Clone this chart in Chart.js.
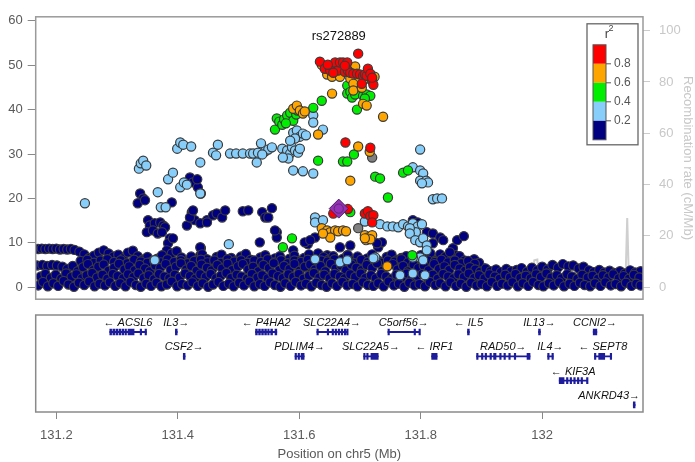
<!DOCTYPE html>
<html>
<head>
<meta charset="utf-8">
<script src="https://cdn.jsdelivr.net/npm/chart.js@4.4.0/dist/chart.umd.min.js"></script>
<style>
html, body { margin: 0; padding: 0; background: #fff; }
#wrap { position: relative; width: 695px; height: 462px; }
canvas { position: absolute; left: 0; }
#top { top: 0; }
#genes { top: 305px; }
</style>
</head>
<body>
<div id="wrap">
  <canvas id="top" width="695" height="316"></canvas>
  <canvas id="genes" width="695" height="157"></canvas>
</div>
<script>
// lead snp
const leadName = 'rs272889';
const leadSnp = [[131.665, 17.7]];

// r2 > 0.8
const ld08 = [[131.697,52.6],[131.634,50.8],[131.642,49.2],[131.651,48.8],[131.659,50.6],[131.664,48.8],[131.667,50.6],[131.672,50.6],[131.675,48.5],[131.679,50.6],[131.680,48.8],[131.684,48.3],[131.689,48.1],[131.695,48.1],[131.700,47.9],[131.705,47.6],[131.708,47.9],[131.711,47.6],[131.713,49.2],[131.717,48.1],[131.720,46.5],[131.722,45.6],[131.720,47.2],[131.703,45.8],[131.675,49.9],[131.656,48.3],[131.647,50.1],[131.676,32.6],[131.717,31.4],[131.656,16.6],[131.680,17.6],[131.708,16.6],[131.713,17.1],[131.717,16.0],[131.722,16.2],[131.720,14.6]];

// 0.6 - 0.8
const ld06 = [[131.637,50.1],[131.646,47.9],[131.654,47.4],[131.667,47.4],[131.684,47.0],[131.692,49.7],[131.700,46.5],[131.711,47.0],[131.724,47.4],[131.654,43.6],[131.590,40.2],[131.596,40.9],[131.601,39.8],[131.606,39.1],[131.609,39.6],[131.631,34.4],[131.689,45.8],[131.689,44.3],[131.703,44.9],[131.705,41.3],[131.711,40.9],[131.738,38.4],[131.697,31.7],[131.716,30.5],[131.684,24.0],[131.637,13.3],[131.646,12.8],[131.651,12.4],[131.659,12.8],[131.664,12.6],[131.672,12.8],[131.677,12.6],[131.651,11.2],[131.639,12.1],[131.708,11.7],[131.713,11.2],[131.720,11.7],[131.710,10.6],[131.717,10.8],[131.708,11.0],[131.745,4.7]];

// 0.4 - 0.6
const ld04 = [[131.560,35.5],[131.563,38.0],[131.567,37.3],[131.572,36.6],[131.575,37.8],[131.580,38.7],[131.585,39.3],[131.590,37.5],[131.595,38.9],[131.578,36.9],[131.597,39.8],[131.623,40.4],[131.637,42.0],[131.679,45.4],[131.679,43.6],[131.631,28.5],[131.672,28.3],[131.679,28.3],[131.573,9.0],[131.588,11.0],[131.684,44.0],[131.687,42.7],[131.692,43.4],[131.705,43.1],[131.711,43.4],[131.717,43.1],[131.708,42.5],[131.695,40.0],[131.690,29.9],[131.725,24.9],[131.733,24.5],[131.746,20.2],[131.771,25.8],[131.779,26.3],[131.786,7.2],[131.684,16.9]];

// 0.2 - 0.4
const ld02 = [[131.247,18.9],[131.336,26.7],[131.339,27.9],[131.343,28.5],[131.348,27.4],[131.367,21.4],[131.372,18.0],[131.380,18.0],[131.384,24.3],[131.392,25.8],[131.399,31.2],[131.404,32.6],[131.409,32.1],[131.422,31.7],[131.404,22.5],[131.410,23.6],[131.415,23.1],[131.437,28.1],[131.437,21.1],[131.458,30.3],[131.463,29.7],[131.466,32.1],[131.486,30.1],[131.496,30.1],[131.507,30.1],[131.519,30.1],[131.524,30.1],[131.532,30.3],[131.537,32.4],[131.544,30.6],[131.549,31.0],[131.555,31.5],[131.539,29.9],[131.530,28.1],[131.484,9.7],[131.572,31.2],[131.577,29.7],[131.580,30.8],[131.585,30.1],[131.588,31.5],[131.593,30.8],[131.598,30.3],[131.601,31.2],[131.582,29.0],[131.573,29.2],[131.590,34.8],[131.596,35.3],[131.601,33.9],[131.606,34.6],[131.611,34.2],[131.593,33.5],[131.585,33.0],[131.590,26.3],[131.606,26.1],[131.623,25.6],[131.623,38.7],[131.623,37.1],[131.639,35.5],[131.626,15.7],[131.626,14.6],[131.639,15.1],[131.626,6.3],[131.667,5.6],[131.679,6.1],[131.708,14.8],[131.733,14.2],[131.745,13.7],[131.754,13.7],[131.763,13.5],[131.771,14.2],[131.779,13.7],[131.787,14.4],[131.795,13.7],[131.802,14.2],[131.792,12.4],[131.782,13.3],[131.787,27.0],[131.799,26.3],[131.804,25.6],[131.799,24.0],[131.809,24.0],[131.812,23.6],[131.802,23.4],[131.799,31.0],[131.820,19.8],[131.827,20.0],[131.835,20.0],[131.782,12.1],[131.791,10.6],[131.799,10.1],[131.804,11.0],[131.810,9.4],[131.810,8.3],[131.799,6.7],[131.787,6.7],[131.804,6.1],[131.725,6.7],[131.766,2.7],[131.807,2.7],[131.722,6.5],[131.787,3.1],[131.362,6.1]];

// < 0.2
const ld00 = [
  [131.338,21.1],[131.343,20.0],[131.334,18.9],[131.346,19.6],[131.351,15.1],[131.354,13.9],[131.362,14.4],[131.371,14.6],[131.376,13.9],[131.379,13.5],[131.349,12.4],[131.359,12.8],[131.367,12.1],[131.374,12.4],[131.387,11.0],[131.384,9.9],[131.392,11.0],[131.382,8.3],[131.390,19.1],[131.420,24.7],[131.425,23.6],[131.433,22.5],[131.438,21.1],[131.432,24.3],[131.423,16.9],[131.428,15.1],[131.415,13.9],[131.448,15.1],[131.438,8.8],
  [131.420,15.7],[131.425,17.3],[131.437,14.4],[131.448,14.6],[131.458,16.2],[131.464,16.6],[131.473,15.7],[131.478,17.3],[131.507,17.1],[131.516,17.3],[131.539,16.9],[131.544,15.7],[131.549,15.7],[131.555,17.8],[131.563,12.4],[131.563,11.2],[131.535,10.1],[131.437,9.0],[131.437,7.2],[131.614,9.7],[131.609,10.1],[131.626,11.2],[131.667,9.0],[131.684,9.4],[131.646,7.2],[131.618,4.5],[131.679,7.2],[131.700,4.5],[131.730,9.0],[131.736,10.1],[131.728,9.9],[131.618,10.6],[131.560,12.8],[131.590,8.3],[131.631,7.6],
  [131.787,15.1],[131.795,14.6],[131.791,13.9],[131.810,12.4],[131.820,12.1],[131.832,11.2],[131.837,10.6],[131.820,9.9],[131.853,8.8],[131.860,10.6],[131.871,11.5],[131.848,6.5],[131.857,7.2],[131.862,6.1],[131.865,4.9],[131.870,5.6],[131.876,4.9],[131.881,4.9],[131.903,4.3],[131.919,3.4],[131.590,4.9],
  [131.170,8.6],[131.176,8.7],[131.182,8.6],[131.188,8.7],[131.194,8.6],[131.200,8.7],[131.206,8.5],[131.212,8.6],[131.218,8.5],[131.224,8.6],[131.230,8.4],[131.238,8.0],[131.246,7.4],[131.254,6.6],[131.262,7.1],[131.270,7.8],[131.278,8.3],[131.286,7.6],[131.294,6.9],[131.302,7.3],[131.310,6.5],[131.318,7.8],[131.326,8.2],[131.334,7.0],[131.342,6.2],[131.350,6.8],[131.358,5.9],[131.366,6.4],[131.374,7.2],[131.382,6.0],[131.390,7.6],[131.398,8.1],[131.406,6.7],[131.414,5.8],[131.422,6.9],[131.430,6.1],[131.440,7.4],[131.448,6.3],[131.456,5.7],[131.464,6.8],[131.472,7.3],[131.480,6.0],[131.488,6.6],[131.496,5.6],[131.504,6.9],[131.512,7.5],[131.520,6.2],[131.528,5.8],[131.536,6.7],[131.544,7.2],[131.552,6.0],[131.560,6.5],[131.568,7.0],[131.576,5.7],[131.584,6.4],[131.592,7.1],[131.600,5.9],[131.608,6.6],[131.616,7.4],[131.624,6.1],[131.632,5.8],[131.640,6.8],[131.648,6.2],[131.656,7.0],[131.664,5.9],[131.672,6.4],[131.680,7.2],[131.688,6.0],[131.696,6.9],[131.704,5.8],[131.712,6.5],[131.720,7.4],[131.728,6.2],[131.736,5.7],[131.744,6.8],[131.752,7.3],[131.760,6.1],[131.768,6.6],[131.776,7.0],[131.784,5.9],[131.792,6.5],[131.800,7.2],[131.808,6.3],[131.816,7.6],[131.824,6.0],[131.832,7.4],[131.840,6.8],[131.848,7.9],[131.856,6.2],[131.864,7.0],[131.872,6.0],[131.880,5.6],[131.888,6.3],[131.896,5.5],
  [131.240,5.9],[131.251,6.2],[131.262,5.5],[131.273,6.0],[131.284,6.3],[131.295,5.7],[131.306,6.1],[131.317,5.4],[131.328,6.2],[131.339,5.8],[131.350,5.5],[131.361,6.0],[131.372,5.6],[131.383,6.3],[131.394,5.7],[131.405,6.1],[131.416,5.4],[131.427,5.9],[131.438,6.2],[131.449,5.6],[131.460,6.0],[131.471,5.5],[131.482,6.3],[131.493,5.8],[131.504,6.1],[131.515,5.5],[131.526,6.0],[131.537,5.7],[131.548,6.3],[131.559,5.6],[131.570,6.1],[131.581,5.4],[131.592,6.0],[131.603,5.7],[131.614,6.2],[131.625,5.5],[131.636,6.0],[131.647,5.8],[131.658,6.3],[131.669,5.6],[131.680,6.0],[131.691,5.4],[131.702,6.2],[131.713,5.7],[131.724,6.1],[131.735,5.5],[131.746,6.0],[131.757,5.8],[131.768,6.3],[131.779,5.6],[131.790,6.1],[131.801,5.5],[131.812,6.0],[131.823,5.7],[131.834,6.2],[131.845,5.6],[131.856,6.0],[131.867,5.4],[131.878,5.9],[131.889,5.3],
  [131.168,4.9],[131.177,5.0],[131.185,4.8],[131.193,5.0],[131.201,4.9],[131.210,4.6],[131.218,4.1],[131.227,4.8],[131.235,3.6],[131.244,4.5],[131.252,5.2],[131.261,3.9],[131.269,4.6],[131.278,5.1],[131.286,3.7],[131.295,4.4],[131.303,5.3],[131.312,4.0],[131.320,4.7],[131.329,3.8],[131.337,5.0],[131.346,4.2],[131.354,3.6],[131.363,4.9],[131.371,4.3],[131.380,5.2],[131.388,3.9],[131.397,4.6],[131.405,5.4],[131.414,4.0],[131.422,4.8],[131.431,3.7],[131.439,5.1],[131.448,4.4],[131.456,3.8],[131.465,5.0],[131.473,4.2],[131.482,5.3],[131.490,3.9],[131.499,4.7],[131.507,5.2],[131.516,4.0],[131.524,4.6],[131.533,3.6],[131.541,5.0],[131.550,4.3],[131.558,5.4],[131.567,3.8],[131.575,4.8],[131.584,4.1],[131.592,5.2],[131.601,3.7],[131.609,4.6],[131.618,5.1],[131.626,4.0],[131.635,4.8],[131.643,3.6],[131.652,5.3],[131.660,4.2],[131.669,4.9],[131.677,3.8],[131.686,5.1],[131.694,4.4],[131.703,3.9],[131.711,5.0],[131.720,4.3],[131.728,5.4],[131.737,3.7],[131.745,4.7],[131.754,5.2],[131.762,4.0],[131.771,4.8],[131.779,3.6],[131.788,5.1],[131.796,4.3],[131.805,4.9],[131.813,3.8],[131.822,5.2],[131.830,4.1],[131.839,4.7],[131.847,3.9],[131.856,5.0],[131.864,4.2],[131.873,3.7],[131.881,4.5],[131.890,4.0],[131.898,3.5],[131.907,4.2],[131.915,3.6],[131.924,4.0],[131.932,3.4],[131.941,4.1],[131.949,3.6],[131.958,3.9],[131.966,4.3],[131.975,3.5],[131.983,4.4],[131.992,3.8],[132.000,4.6],[132.009,4.0],[132.017,5.0],[132.026,4.4],[132.034,5.2],[132.043,4.7],[132.051,4.9],[132.060,4.2],[132.068,4.6],[132.077,3.8],[132.085,3.4],[132.094,3.9],[132.102,3.3],[132.111,3.7],[132.119,3.2],[132.128,3.6],[132.136,3.1],[132.145,3.8],[132.153,3.3],[132.162,3.6],
  [131.174,2.4],[131.182,3.0],[131.191,2.1],[131.199,2.8],[131.208,1.9],[131.216,3.1],[131.225,2.3],[131.233,2.9],[131.242,2.0],[131.250,2.7],[131.259,3.2],[131.267,2.2],[131.276,2.8],[131.284,1.9],[131.293,3.0],[131.301,2.5],[131.310,2.0],[131.318,2.9],[131.327,2.3],[131.335,3.1],[131.344,2.1],[131.352,2.7],[131.361,1.8],[131.369,3.0],[131.378,2.4],[131.386,2.0],[131.395,2.8],[131.403,2.2],[131.412,3.1],[131.420,2.5],[131.429,1.9],[131.437,2.9],[131.446,2.3],[131.454,3.0],[131.463,2.0],[131.471,2.6],[131.480,3.2],[131.488,2.1],[131.497,2.8],[131.505,2.4],[131.514,1.9],[131.522,3.0],[131.531,2.2],[131.539,2.7],[131.548,2.0],[131.556,3.1],[131.565,2.5],[131.573,2.1],[131.582,2.9],[131.590,2.3],[131.599,3.0],[131.607,1.9],[131.616,2.6],[131.624,3.2],[131.633,2.2],[131.641,2.8],[131.650,2.0],[131.658,3.0],[131.667,2.4],[131.675,2.0],[131.684,2.9],[131.692,2.3],[131.701,3.1],[131.709,2.1],[131.718,2.7],[131.726,2.0],[131.735,3.0],[131.743,2.4],[131.752,1.9],[131.760,2.8],[131.769,2.3],[131.777,3.1],[131.786,2.1],[131.794,2.6],[131.803,3.0],[131.811,2.2],[131.820,2.8],[131.828,1.9],[131.837,3.0],[131.845,2.4],[131.854,2.0],[131.862,2.9],[131.871,2.3],[131.879,3.1],[131.888,2.1],[131.896,2.7],[131.905,2.0],[131.913,2.9],[131.922,2.4],[131.930,1.9],[131.939,2.8],[131.947,2.2],[131.956,3.0],[131.964,2.1],[131.973,2.6],[131.981,2.0],[131.990,2.9],[131.998,2.3],[132.007,3.1],[132.015,2.2],[132.024,2.7],[132.032,2.0],[132.041,2.9],[132.049,2.4],[132.058,1.9],[132.066,2.8],[132.075,2.2],[132.083,2.6],[132.092,1.9],[132.100,2.7],[132.109,2.2],[132.117,2.9],[132.126,2.0],[132.134,2.5],[132.143,1.9],[132.151,2.8],[132.160,2.2],
  [131.170,0.4],[131.178,1.2],[131.186,0.2],[131.195,0.9],[131.203,0.3],[131.212,1.4],[131.220,0.6],[131.229,0.1],[131.237,1.0],[131.246,0.5],[131.254,1.3],[131.263,0.2],[131.271,0.8],[131.280,0.4],[131.288,1.1],[131.297,0.3],[131.305,0.9],[131.314,0.2],[131.322,1.2],[131.331,0.5],[131.339,0.1],[131.348,0.8],[131.356,0.3],[131.365,1.0],[131.373,0.2],[131.382,0.6],[131.390,1.3],[131.399,0.2],[131.407,0.7],[131.416,0.4],[131.424,1.1],[131.433,0.3],[131.441,0.9],[131.450,0.1],[131.458,0.6],[131.467,1.2],[131.475,0.3],[131.484,0.8],[131.492,0.2],[131.501,1.0],[131.509,0.4],[131.518,1.3],[131.526,0.2],[131.535,0.7],[131.543,0.3],[131.552,1.1],[131.560,0.5],[131.569,0.1],[131.577,0.9],[131.586,0.3],[131.594,1.2],[131.603,0.4],[131.611,0.8],[131.620,0.2],[131.628,1.0],[131.637,0.5],[131.645,0.1],[131.654,0.9],[131.662,0.3],[131.671,1.2],[131.679,0.4],[131.688,0.7],[131.696,0.2],[131.705,1.1],[131.713,0.5],[131.722,0.3],[131.730,0.9],[131.739,0.2],[131.747,1.3],[131.756,0.4],[131.764,0.8],[131.773,0.1],[131.781,1.0],[131.790,0.4],[131.798,0.7],[131.807,0.2],[131.815,1.2],[131.824,0.5],[131.832,0.9],[131.841,0.2],[131.849,1.1],[131.858,0.3],[131.866,0.8],[131.875,0.1],[131.883,1.0],[131.892,0.4],[131.900,0.7],[131.909,0.2],[131.917,1.2],[131.926,0.3],[131.934,0.8],[131.943,0.4],[131.951,1.1],[131.960,0.2],[131.968,0.9],[131.977,0.3],[131.985,1.2],[131.994,0.5],[132.002,0.2],[132.011,0.9],[132.019,0.4],[132.028,1.1],[132.036,0.2],[132.045,0.8],[132.053,0.3],[132.062,1.0],[132.070,0.5],[132.079,0.2],[132.087,0.9],[132.096,0.3],[132.104,1.1],[132.113,0.4],[132.121,0.7],[132.130,0.2],[132.138,1.0],[132.147,0.3],[132.155,0.8],[132.162,0.4]
];

// no LD info
const ldNA = [[131.697,13.3],[131.720,29.2]];

// recombination rate (cM/Mb)
const recombPos  = [131.166,131.20,131.25,131.30,131.35,131.40,131.45,131.50,131.55,131.60,131.65,131.70,131.75,131.80,131.85,131.90,131.95,131.984,131.987,131.992,131.995,132.00,132.05,132.10,132.137,132.140,132.143,132.15,132.166];
const recombRate = [0.6,0.4,0.8,0.3,1.0,0.5,0.7,0.4,0.9,0.6,1.2,0.8,0.5,0.9,0.4,0.7,0.5,0.9,10.5,10.8,1.0,0.6,0.8,0.4,0.9,27.0,1.1,0.5,0.6];

const leftTicks = [0, 10, 20, 30, 40, 50, 60];
const rightTicks = [0, 20, 40, 60, 80, 100];
const xTicks = [131.2, 131.4, 131.6, 131.8, 132];
const xTickLabels = ['131.2', '131.4', '131.6', '131.8', '132'];

const ldColors = ['#FF0000', '#FFA500', '#00EE00', '#87CEFA', '#000080'];
const legendBreaks = ['0.8', '0.6', '0.4', '0.2'];

// genes
const geneNames  = ['ACSL6','IL3','P4HA2','SLC22A4','C5orf56','IL5','IL13','CCNI2','CSF2','PDLIM4','SLC22A5','IRF1','RAD50','IL4','SEPT8','KIF3A','ANKRD43'];
const geneStrand = ['-','+','-','+','+','-','+','+','+','+','+','-','+','+','-','-','+'];
const geneRow    = [1,1,1,1,1,1,1,1,2,2,2,2,2,2,2,3,4];
const geneStart  = [131.288,131.396,131.528,131.629,131.746,131.877,131.994,132.084,131.409,131.593,131.706,131.818,131.892,132.009,132.086,132.028,132.150];
const geneEnd    = [131.348,131.399,131.563,131.679,131.798,131.880,131.997,132.090,131.412,131.608,131.730,131.827,131.980,132.018,132.114,132.074,132.153];
const geneExons  = [
  [[131.288,131.291],[131.293,131.296],[131.298,131.301],[131.303,131.306],[131.308,131.311],[131.313,131.315],[131.318,131.328],[131.338,131.340],[131.346,131.348]],
  [[131.396,131.399]],
  [[131.528,131.531],[131.533,131.536],[131.538,131.541],[131.543,131.546],[131.548,131.550],[131.553,131.556],[131.560,131.563]],
  [[131.629,131.631],[131.646,131.648],[131.654,131.656],[131.659,131.661],[131.664,131.666],[131.669,131.671],[131.674,131.676],[131.678,131.679]],
  [[131.746,131.747],[131.789,131.791],[131.797,131.798]],
  [[131.877,131.880]],
  [[131.994,131.997]],
  [[132.084,132.090]],
  [[131.409,131.412]],
  [[131.593,131.595],[131.598,131.600],[131.603,131.608]],
  [[131.706,131.707],[131.711,131.713],[131.718,131.730]],
  [[131.818,131.827]],
  [[131.892,131.893],[131.900,131.901],[131.906,131.907],[131.914,131.916],[131.920,131.924],[131.930,131.931],[131.937,131.939],[131.945,131.947],[131.954,131.956],[131.975,131.980]],
  [[132.009,132.011],[132.016,132.018]],
  [[132.086,132.087],[132.093,132.103],[132.112,132.114]],
  [[132.028,132.036],[132.040,132.041],[132.046,132.047],[132.052,132.053],[132.058,132.059],[132.064,132.065],[132.073,132.074]],
  [[132.150,132.153]]
];

Chart.defaults.font.family = '"Liberation Sans", Arial, sans-serif';
Chart.defaults.animation = false;

const toXY = arr => arr.map(p => ({x: p[0], y: p[1]}));

function snpSet(label, pts, color, order) {
  return {
    label: label, data: toXY(pts), yAxisID: 'y', order: order,
    backgroundColor: color, borderColor: '#3a3a3a', borderWidth: 1.2,
    pointRadius: 4.6, pointHoverRadius: 4.6
  };
}

const framePlugin = {
  id: 'frame',
  afterDatasetsDraw(chart) {
    const a = chart.chartArea, ctx = chart.ctx;
    ctx.save();
    ctx.strokeStyle = '#9a9a9a';
    ctx.lineWidth = 1.5;
    ctx.strokeRect(a.left, a.top, a.right - a.left, a.bottom - a.top);
    ctx.restore();
  }
};

const ldLegend = {
  id: 'ldLegend',
  afterDraw(chart) {
    const a = chart.chartArea, ctx = chart.ctx;
    const bx = a.right - 56, by = a.top + 7, bw = 51, bh = 121;
    ctx.save();
    ctx.fillStyle = '#fff';
    ctx.fillRect(bx, by, bw, bh);
    ctx.strokeStyle = '#666';
    ctx.lineWidth = 1.3;
    ctx.strokeRect(bx, by, bw, bh);
    const sx = bx + 6, sy = by + 21, sw = 13, sh = 19;
    ldColors.forEach((c, i) => {
      ctx.fillStyle = c;
      ctx.fillRect(sx, sy + i * sh, sw, sh);
    });
    ctx.strokeStyle = '#555';
    ctx.lineWidth = 1;
    ctx.strokeRect(sx, sy, sw, sh * ldColors.length);
    ctx.font = '12px "Liberation Sans", Arial, sans-serif';
    ctx.fillStyle = '#555';
    ctx.textBaseline = 'middle';
    ctx.textAlign = 'left';
    legendBreaks.forEach((t, i) => {
      const y = sy + (i + 1) * sh;
      ctx.beginPath();
      ctx.moveTo(sx + sw, y);
      ctx.lineTo(sx + sw + 5, y);
      ctx.stroke();
      ctx.fillText(t, sx + sw + 8, y);
    });
    ctx.fillStyle = '#444';
    ctx.font = '13px "Liberation Sans", Arial, sans-serif';
    ctx.textAlign = 'center';
    ctx.fillText('r', sx + sw + 1, by + 11);
    ctx.font = '9px "Liberation Sans", Arial, sans-serif';
    ctx.fillText('2', sx + sw + 5, by + 5);
    ctx.restore();
  }
};

const leadLabel = {
  id: 'leadLabel',
  afterDraw(chart) {
    const ctx = chart.ctx;
    const x = chart.scales.x.getPixelForValue(leadSnp[0][0]);
    ctx.save();
    ctx.font = '13px "Liberation Sans", Arial, sans-serif';
    ctx.fillStyle = '#111';
    ctx.textAlign = 'center';
    ctx.textBaseline = 'middle';
    ctx.fillText(leadName, x, chart.chartArea.top + 20);
    ctx.restore();
  }
};

new Chart(document.getElementById('top'), {
  type: 'scatter',
  data: {
    datasets: [
      {
        type: 'line', label: 'recomb', yAxisID: 'y2', order: 9,
        data: recombPos.map((p, i) => ({x: p, y: recombRate[i]})),
        borderColor: '#cfcfcf', borderWidth: 2, pointRadius: 0, tension: 0, fill: false
      },
      snpSet('r2<0.2', ld00, ldColors[4], 8),
      snpSet('0.2-0.4', ld02, ldColors[3], 7),
      snpSet('NA', ldNA, '#808080', 6),
      snpSet('0.4-0.6', ld04, ldColors[2], 5),
      snpSet('0.6-0.8', ld06, ldColors[1], 4),
      snpSet('>0.8', ld08, ldColors[0], 3),
      {
        label: 'lead', data: toXY(leadSnp), yAxisID: 'y', order: 1,
        pointStyle: 'rectRot', pointRadius: 9.5, backgroundColor: '#9632B8',
        borderColor: '#4a2060', borderWidth: 1
      },
      {
        label: 'lead2', data: toXY(leadSnp), yAxisID: 'y', order: 0,
        pointRadius: 4.6, backgroundColor: '#9632B8', borderColor: '#5a2a70', borderWidth: 1
      }
    ]
  },
  options: {
    responsive: false,
    layout: { padding: { top: 16, bottom: 6, left: 0, right: 0 } },
    plugins: { legend: { display: false }, tooltip: { enabled: false } },
    scales: {
      x: { type: 'linear', min: 131.166, max: 132.166, display: false },
      y: {
        position: 'left', min: -2.7, max: 60.9,
        afterBuildTicks: s => { s.ticks = leftTicks.map(v => ({value: v})); },
        afterFit: s => { s.width = 35.7; },
        grid: { drawOnChartArea: false, drawTicks: true, tickLength: 8, color: '#888' },
        border: { display: false },
        ticks: { color: '#5a5a5a', padding: 5, font: { size: 13 } }
      },
      y2: {
        position: 'right', min: -4.67, max: 105.4,
        afterBuildTicks: s => { s.ticks = rightTicks.map(v => ({value: v})); },
        afterFit: s => { s.width = 52; },
        grid: { drawOnChartArea: false, drawTicks: true, tickLength: 7, color: '#cccccc' },
        border: { display: false },
        ticks: { color: '#c8c8c8', padding: 9, font: { size: 13 } },
        title: {
          display: true, text: 'Recombination rate (cM/Mb)', color: '#c8c8c8',
          font: { size: 13 }, padding: { top: 0, bottom: 0 }
        }
      }
    }
  },
  plugins: [framePlugin, ldLegend, leadLabel]
});

// gene track
const geneLabels = {
  id: 'geneLabels',
  afterDatasetsDraw(chart) {
    const a = chart.chartArea, ctx = chart.ctx;
    const xs = chart.scales.x, ys = chart.scales.y;
    ctx.save();
    ctx.font = 'italic 11px "Liberation Sans", Arial, sans-serif';
    ctx.fillStyle = '#111';
    ctx.textBaseline = 'middle';
    ctx.textAlign = 'left';
    geneNames.forEach((n, i) => {
      const txt = geneStrand[i] === '+' ? n + '\u2192' : '\u2190 ' + n;
      const w = ctx.measureText(txt).width;
      const cx = xs.getPixelForValue((geneStart[i] + geneEnd[i]) / 2);
      let left = cx - w / 2;
      if (left + w > a.right - 3) left = a.right - 3 - w;
      if (left < a.left + 3) left = a.left + 3;
      ctx.fillText(txt, left, ys.getPixelForValue(geneRow[i]) - 9);
    });
    ctx.strokeStyle = '#8a8a8a';
    ctx.lineWidth = 1.5;
    ctx.strokeRect(a.left, a.top, a.right - a.left, a.bottom - a.top);
    ctx.restore();
  }
};

const spanData = geneNames.map((n, i) => ({x: [geneStart[i], geneEnd[i]], y: geneRow[i]}));
const exonData = [];
geneExons.forEach((ex, i) => ex.forEach(e => exonData.push({x: [e[0], e[1]], y: geneRow[i]})));

new Chart(document.getElementById('genes'), {
  type: 'bar',
  data: {
    datasets: [
      { label: 'exons', data: exonData, backgroundColor: '#1c1c9c', barThickness: 6, minBarLength: 1.5, grouped: false },
      { label: 'genes', data: spanData, backgroundColor: '#1c1c9c', barThickness: 1.2, grouped: false }
    ]
  },
  options: {
    responsive: false,
    indexAxis: 'y',
    layout: { padding: { top: 10, bottom: 0, left: 35.7, right: 52 } },
    plugins: { legend: { display: false }, tooltip: { enabled: false } },
    scales: {
      x: {
        type: 'linear', min: 131.166, max: 132.166, position: 'bottom',
        afterBuildTicks: s => { s.ticks = xTicks.map(v => ({value: v})); },
        afterFit: s => { s.height = 50; },
        grid: { drawOnChartArea: false, drawTicks: true, tickLength: 7, color: '#888' },
        border: { display: false },
        ticks: { color: '#5a5a5a', padding: 9, font: { size: 13 }, maxRotation: 0,
                 callback: (v, i) => xTickLabels[i] },
        title: { display: true, text: 'Position on chr5 (Mb)', color: '#5a5a5a',
                 font: { size: 13 }, padding: { top: 0, bottom: 0 } }
      },
      y: { type: 'linear', min: 0.30, max: 4.29, reverse: true, display: false, offset: false }
    }
  },
  plugins: [geneLabels]
});
</script>
</body>
</html>
